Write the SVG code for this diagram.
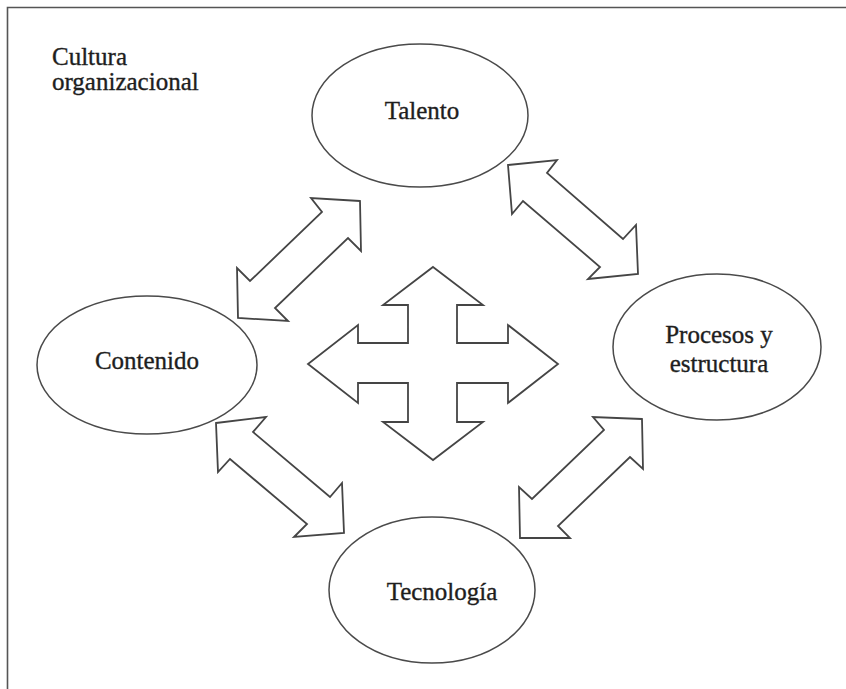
<svg xmlns="http://www.w3.org/2000/svg" width="846" height="689" viewBox="0 0 846 689">
  <style>
    .frame { fill: none; stroke: #555; stroke-width: 1.6; }
    .node ellipse { fill: #fff; stroke: #4a4a4a; stroke-width: 1.5; }
    .label, .title { font-family: "Liberation Serif", "DejaVu Serif", serif; font-size: 25px; fill: #1e1e1e; stroke: #1e1e1e; stroke-width: 0.35; }
    .label { text-anchor: middle; }
    .arrow { fill: #fff; stroke: #454545; stroke-width: 1.8; stroke-linejoin: miter; }
  </style>
  <rect width="846" height="689" fill="#fff"/>

  <!-- open frame: top and left edges only -->
  <path class="frame" d="M7.5,689 V7.5 H846"/>

  <g id="title">
    <text class="title" x="52" y="65">Cultura</text>
    <text class="title" x="52" y="90">organizacional</text>
  </g>

  <g id="talento" class="node">
    <ellipse cx="420" cy="115.5" rx="108" ry="71.5"/>
    <text class="label" x="422" y="119">Talento</text>
  </g>

  <g id="contenido" class="node">
    <ellipse cx="147" cy="365" rx="110" ry="69"/>
    <text class="label" x="147" y="369">Contenido</text>
  </g>

  <g id="procesos" class="node">
    <ellipse cx="717" cy="347" rx="104" ry="73"/>
    <text class="label" x="719" y="343">Procesos y</text>
    <text class="label" x="719" y="372">estructura</text>
  </g>

  <g id="tecnologia" class="node">
    <ellipse cx="432" cy="590" rx="103" ry="73"/>
    <text class="label" x="442" y="600">Tecnología</text>
  </g>

  <g id="connectors">
    <!-- Contenido <-> Talento -->
    <polygon class="arrow" points="360,201 311,198 322,212 250,281 237,268 238,318 288,321 275,308 348,238 361,251"/>
    <!-- Talento <-> Procesos y estructura -->
    <polygon class="arrow" points="508,165 557,160 547,173 623,239 636,225 638,274 588,279 600,267 523,201 512,214"/>
    <!-- Contenido <-> Tecnología -->
    <polygon class="arrow" points="216,423 266,417 253,432 330,497 342,483 344,533 294,537 307,524 230,459 218,472"/>
    <!-- Tecnología <-> Procesos y estructura -->
    <polygon class="arrow" points="642,419 593,417 604,430 532,499 519,487 520,538 570,538 558,526 630,457 643,469"/>
    <!-- central four-way arrow -->
    <polygon class="arrow" points="433,267 483,305 457,305 457,343 508,343 508,325 558,364 508,403 508,383 457,383 457,422 483,422 433,460 383,422 408,422 408,383 358,383 358,403 308,364 358,325 358,343 408,343 408,305 383,305"/>
  </g>
</svg>
